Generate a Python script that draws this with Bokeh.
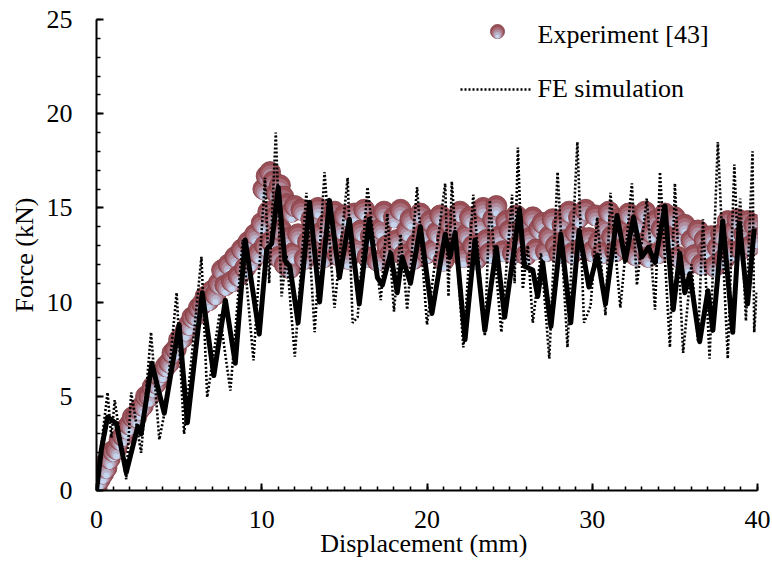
from bokeh.plotting import figure
from bokeh.models import SingleIntervalTicker, Range1d, ColumnDataSource
from bokeh.embed import file_html
from bokeh.resources import INLINE
from bokeh.core.properties import value

# ---------------- data ----------------
# Experiment [43]
exp_disp = [
    0.0, 0.05, 0.1, 0.15, 0.2, 0.3, 0.4, 0.5, 0.6, 0.8,
    1.0, 1.2, 1.4, 1.6, 1.8, 2.0, 2.2, 2.4, 2.6, 2.8,
    3.0, 3.2, 3.4, 3.6, 3.8, 4.0, 4.2, 4.4, 4.6, 4.8,
    5.0, 5.2, 5.4, 5.6, 5.8, 6.0, 6.2, 6.4, 6.6, 6.8,
    7.0, 7.2, 7.4, 7.6, 7.8, 8.0, 8.2, 8.4, 8.6, 8.8,
    9.0, 9.2, 9.4, 9.6, 9.8,
    10.0, 10.1, 10.2, 10.3, 10.4, 10.5, 10.6, 10.7, 10.8, 10.9,
    11.0, 11.1, 11.2, 11.3, 11.4, 11.5, 11.6, 11.7, 11.8, 11.9, 12.0,
    12.2, 12.4, 12.6, 12.8, 13.0, 13.2, 13.4, 13.6, 13.8, 14.0,
    14.2, 14.4, 14.6, 14.8, 15.0, 15.2, 15.4, 15.6, 15.8, 16.0,
    16.2, 16.4, 16.6, 16.8, 17.0, 17.2, 17.4, 17.6, 17.8, 18.0,
    18.2, 18.4, 18.6, 18.8, 19.0, 19.2, 19.4, 19.6, 19.8, 20.0,
    20.2, 20.4, 20.6, 20.8, 21.0, 21.2, 21.4, 21.6, 21.8, 22.0,
    22.2, 22.4, 22.6, 22.8, 23.0, 23.2, 23.4, 23.6, 23.8, 24.0,
    24.2, 24.4, 24.6, 24.8, 25.0, 25.2, 25.4, 25.6, 25.8, 26.0,
    26.2, 26.4, 26.6, 26.8, 27.0, 27.2, 27.4, 27.6, 27.8, 28.0,
    28.2, 28.4, 28.6, 28.8, 29.0, 29.2, 29.4, 29.6, 29.8, 30.0,
    30.2, 30.4, 30.6, 30.8, 31.0, 31.2, 31.4, 31.6, 31.8, 32.0,
    32.2, 32.4, 32.6, 32.8, 33.0, 33.2, 33.4, 33.6, 33.8, 34.0,
    34.2, 34.4, 34.6, 34.8, 35.0, 35.2, 35.4, 35.6, 35.8, 36.0,
    36.2, 36.4, 36.6, 36.8, 37.0, 37.2, 37.4, 37.6, 37.8, 38.0,
    38.2, 38.4, 38.6, 38.8, 39.0, 39.2, 39.4, 39.6, 39.8, 40.0,
]
exp_force = [
    0.1, 0.4, 0.7, 1.0, 0.6, 1.1, 0.9, 1.4, 1.2, 1.7,
    2.1, 2.2, 2.7, 2.9, 3.3, 3.5, 3.9, 3.9, 4.3, 4.5,
    5.0, 5.0, 5.5, 5.7, 6.1, 6.3, 6.6, 6.8, 7.3, 7.5,
    8.0, 8.1, 8.5, 8.8, 9.2, 9.3, 9.7, 9.9, 10.3, 10.1,
    10.6, 10.4, 11.0, 11.7, 10.9, 12.0, 11.1, 12.4, 11.4, 12.8,
    11.8, 13.2, 12.2, 13.6, 12.6,
    14.2, 16.0, 13.0, 16.7, 14.8, 16.9, 13.2, 16.4, 14.5, 15.8,
    12.4, 16.2, 13.8, 15.6, 12.0, 15.2, 13.4, 11.8, 14.8, 12.6, 15.1,
    13.6, 14.9, 12.3, 13.2, 14.4, 12.8, 15.0, 13.7, 12.4, 14.2,
    13.1, 14.8, 12.5, 13.9, 14.6, 12.3, 13.4, 14.7, 12.9, 13.8,
    14.9, 12.4, 13.5, 14.3, 12.2, 13.9, 14.8, 13.0, 12.6, 14.5,
    13.3, 14.9, 12.5, 13.8, 14.4, 12.3, 13.1, 14.7, 13.6, 12.6,
    14.3, 12.8, 13.7, 14.6, 12.2, 13.4, 14.2, 12.9, 13.9, 14.8,
    12.4, 13.6, 14.5, 13.0, 12.3, 14.1, 15.0, 13.3, 12.6, 14.4,
    15.1, 13.5, 12.7, 14.3, 13.8, 12.6, 14.6, 13.1, 14.0, 12.5,
    13.4, 14.5, 12.8, 13.9, 14.2, 12.7, 13.5, 14.4, 13.0, 12.6,
    14.1, 13.3, 14.8, 12.6, 13.7, 14.5, 12.9, 14.9, 13.4, 12.7,
    14.6, 13.2, 12.6, 14.0, 14.8, 13.5, 12.7, 14.4, 13.8, 12.9,
    14.7, 13.6, 12.5, 14.2, 13.1, 14.8, 12.4, 13.7, 14.3, 12.6,
    13.9, 14.7, 12.8, 13.4, 14.5, 12.4, 13.6, 14.1, 12.0, 13.3,
    12.5, 13.8, 12.0, 13.3, 12.8, 13.5, 11.9, 12.9, 13.6, 12.3,
    14.3, 12.7, 13.8, 14.4, 12.8, 13.6, 14.3, 13.0, 14.1, 13.4,
]

# FE simulation (dotted)
fe_disp = [0.0, 0.3, 0.67, 0.9, 1.1, 1.8, 2.1, 2.7, 3.3, 3.8,
           4.2, 4.85, 5.3, 6.35, 6.7, 7.45, 8.1, 8.85, 9.5, 10.2,
           10.45, 10.85, 11.2, 11.5, 12.0, 12.7, 13.2, 13.8, 14.4, 15.2,
           15.5, 15.8, 16.4, 17.2, 17.6, 18.0, 18.4, 18.8, 19.4, 20.0,
           21.1, 21.3, 21.5, 22.2, 22.8, 23.5, 23.8, 24.5, 25.15, 25.3,
           25.5, 25.8, 26.1, 26.4, 26.9, 27.4, 27.9, 28.5, 29.1, 29.5,
           29.9, 30.3, 30.8, 31.1, 31.7, 32.4, 32.7, 33.3, 33.8, 34.1,
           34.7, 35.0, 35.5, 36.0, 36.4, 36.7, 37.1, 37.6, 38.2, 38.6,
           38.8, 38.95, 39.3, 39.7, 39.8, 39.95]
fe_force = [0.0, 2.5, 5.2, 2.8, 4.8, 0.6, 5.2, 2.0, 8.4, 2.7,
            4.5, 10.5, 3.0, 12.4, 4.95, 9.4, 5.3, 13.3, 6.9, 16.6,
            11.0, 19.0, 10.3, 12.5, 7.1, 15.8, 8.4, 16.9, 9.7, 16.6,
            8.9, 9.2, 16.1, 10.1, 14.7, 9.5, 13.6, 9.6, 16.1, 8.8,
            16.3, 10.3, 16.4, 7.6, 15.7, 8.2, 15.4, 8.4, 15.7, 11.0,
            18.2, 10.7, 13.0, 8.9, 12.6, 7.0, 16.9, 7.6, 18.5, 8.9,
            9.8, 14.5, 9.3, 15.8, 9.7, 16.3, 10.9, 15.5, 9.6, 16.9,
            7.6, 16.3, 7.3, 12.0, 7.9, 14.4, 7.0, 18.5, 7.0, 17.3,
            13.0, 15.5, 9.0, 18.0, 8.4, 10.5]

# thick solid curve
sm_disp = [0.0, 0.3, 0.67, 1.2, 1.8, 2.5, 2.7, 3.35, 4.1, 5.0,
           5.5, 6.4, 7.1, 7.8, 8.4, 9.0, 9.85, 10.3, 10.6, 11.0,
           11.4, 11.7, 12.2, 12.9, 13.5, 14.1, 14.7, 15.3, 15.9, 16.5,
           17.0, 17.3, 17.8, 18.2, 18.5, 19.0, 19.6, 20.3, 21.1, 21.4,
           21.7, 22.3, 22.9, 23.5, 24.2, 24.7, 25.6, 25.9, 26.4, 26.7,
           27.0, 27.5, 28.1, 28.7, 29.2, 29.8, 30.3, 30.8, 31.5, 32.0,
           32.5, 33.0, 33.4, 33.8, 34.4, 34.9, 35.3, 35.6, 35.9, 36.5,
           37.0, 37.3, 37.9, 38.5, 38.9, 39.4, 39.8]
sm_force = [0.0, 2.2, 3.9, 3.55, 0.95, 3.4, 3.0, 6.75, 4.1, 8.8,
            3.6, 10.5, 6.1, 10.1, 6.75, 13.3, 8.3, 12.8, 13.1, 16.1,
            12.2, 11.9, 8.9, 15.3, 10.0, 15.4, 11.3, 14.4, 9.9, 14.4,
            11.3, 10.9, 12.6, 10.5, 12.4, 11.0, 14.0, 9.4, 13.6, 12.4,
            13.7, 8.0, 13.3, 8.5, 12.9, 9.2, 14.9, 11.9, 11.7, 10.3,
            12.1, 8.7, 13.6, 8.9, 13.8, 10.8, 12.5, 9.9, 14.6, 12.2,
            14.5, 12.4, 12.9, 12.1, 15.1, 9.6, 12.6, 10.5, 11.5, 7.9,
            10.6, 8.5, 14.3, 8.4, 14.2, 9.9, 13.9]

x_ticks_interval = 10
y_ticks_interval = 5
x_label = "Displacement  (mm)"
y_label = "Force (kN)"
legend_labels = ["Experiment [43]", "FE simulation"]

# ---------------- layout / style ----------------
W, H = 772, 563
ML, MR, MT, MB = 96, 15, 19, 73
X0, X1, Y0, Y1 = 0, 40, 0, 25
px_per_x = (W - ML - MR) / (X1 - X0)
px_per_y = (H - MT - MB) / (Y1 - Y0)
FONT = "Liberation Serif"
FS = "26px"

p = figure(width=W, height=H, output_backend="svg", toolbar_location=None,
           x_range=Range1d(X0, X1), y_range=Range1d(Y0, Y1),
           min_border_left=ML, min_border_right=MR,
           min_border_top=MT, min_border_bottom=MB)
p.xgrid.visible = False
p.ygrid.visible = False
p.outline_line_color = None
p.background_fill_color = "white"
p.border_fill_color = "white"

# shaded bubble: stacked circles tangent at the bottom (size px, drop px, colour)
layers = [(21, 0.0, "#9a4f57"), (17.25, 1.875, "#a66b77"), (13.5, 3.75, "#b08d9f"),
          (9.75, 5.625, "#b9b2c8"), (6, 7.5, "#c3d4ec")]


def bubble_source(xs, ys, scale=1.0):
    d = dict(x=[], y=[], size=[], fill=[], la=[])
    for xv, yv in zip(xs, ys):
        for k, (s, dy, c) in enumerate(layers):
            d["x"].append(xv)
            d["y"].append(yv - dy * scale / px_per_y)
            d["size"].append(s * scale)
            d["fill"].append(c)
            d["la"].append(1.0 if k == 0 else 0.0)
    return ColumnDataSource(d)


p.scatter(x="x", y="y", size="size", fill_color="fill", line_color="#83434a",
          line_alpha="la", line_width=0.9, source=bubble_source(exp_disp, exp_force))

p.line(fe_disp, fe_force, line_color="black", line_width=2.6, line_dash="2 2")
p.line(sm_disp, sm_force, line_color="black", line_width=5, line_join="round")


# legend (drawn by hand to keep the shaded bubble)
def dx(px):
    return X0 + (px - ML) / px_per_x


def dy_(py):
    return Y0 + (H - MB - py) / px_per_y


p.scatter(x="x", y="y", size="size", fill_color="fill", line_color="#83434a",
          line_alpha="la", line_width=0.9,
          source=bubble_source([dx(497)], [dy_(31)], scale=14 / 21))
p.line([dx(460), dx(532)], [dy_(89), dy_(89)], line_color="black",
       line_width=2.6, line_dash="2 2")
p.text(x=[dx(537), dx(537)], y=[dy_(34), dy_(88)], text=legend_labels,
       text_font=value(FONT), text_font_size=FS, text_baseline="middle",
       text_align="left", text_color="black")

# axes
p.xaxis.ticker = SingleIntervalTicker(interval=x_ticks_interval, num_minor_ticks=10)
p.yaxis.ticker = SingleIntervalTicker(interval=y_ticks_interval, num_minor_ticks=5)
p.xaxis.axis_label = x_label
p.yaxis.axis_label = y_label
for ax in (p.xaxis[0], p.yaxis[0]):
    ax.axis_line_width = 2
    ax.axis_line_color = "black"
    ax.major_tick_line_width = 2
    ax.minor_tick_line_width = 1.6
    ax.major_tick_line_color = "black"
    ax.minor_tick_line_color = "black"
    ax.major_tick_in = 7
    ax.major_tick_out = 0
    ax.minor_tick_in = 4
    ax.minor_tick_out = 0
    ax.major_label_text_font = FONT
    ax.major_label_text_font_size = FS
    ax.major_label_text_color = "black"
    ax.axis_label_text_font = FONT
    ax.axis_label_text_font_size = FS
    ax.axis_label_text_font_style = "normal"
    ax.axis_label_text_color = "black"
p.xaxis.major_label_standoff = 20
p.xaxis.axis_label_standoff = -2
p.yaxis.major_label_standoff = 24
p.yaxis.axis_label_standoff = 5

open("out.html", "w").write(file_html(p, INLINE))
